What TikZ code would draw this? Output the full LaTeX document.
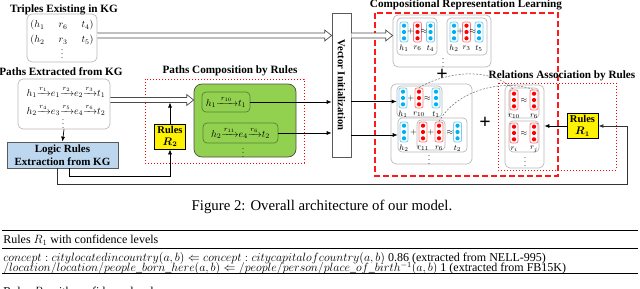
\documentclass[tikz,border=0pt]{standalone}
\usepackage{fontspec}
\setmainfont{Liberation Serif}
\usepackage{amsmath}
\usetikzlibrary{arrows.meta, positioning, calc}
\definecolor{dotblue}{RGB}{0,176,240}
\definecolor{dotred}{RGB}{255,0,0}
\definecolor{lineblue}{RGB}{120,205,245}
\definecolor{linered}{RGB}{255,124,128}
\definecolor{logicblue}{RGB}{189,215,238}
\definecolor{leafgreen}{RGB}{146,208,80}
\definecolor{darkgreen}{RGB}{84,130,53}

% hollow arrow between two points (same height)
\newcommand{\fatarrow}[2]{%
  \draw[gray!60!black, fill=white, line width=0.7pt, line join=miter]
    let \p1=(#1), \p2=(#2) in
    (\x1,\y1+2.5pt) -- (\x2-7pt,\y1+2.5pt) -- (\x2-7pt,\y1+5.5pt) -- (\x2,\y1)
    -- (\x2-7pt,\y1-5.5pt) -- (\x2-7pt,\y1-2.5pt) -- (\x1,\y1-2.5pt);}

\begin{document}
\begin{tikzpicture}[x=1pt, y=-1pt, font=\fontsize{10}{12}\selectfont, line width=0.7pt,
  title/.style={font=\fontsize{11.2}{13}\selectfont\bfseries, inner sep=0pt},
  graybox/.style={draw=gray!55, rounded corners=5pt, inner sep=0pt},
  rulebox/.style={draw, fill=yellow, align=center, font=\fontsize{10.5}{12}\selectfont\bfseries,
    minimum width=31pt, minimum height=25pt, inner sep=1pt},
  pathbox/.style={draw=darkgreen, rounded corners=4pt, minimum height=20pt, inner sep=1pt},
  vec/.style={draw=line#1, line width=0.8pt, fill=white, rounded corners=2pt,
    minimum width=8pt, minimum height=20pt, inner sep=0pt},
  veclab/.style={font=\fontsize{8.5}{9}\selectfont, inner sep=0pt},
  sym/.style={font=\fontsize{8}{9}\selectfont, inner sep=0pt},
  dots/.style={font=\fontsize{8}{9}\selectfont, inner sep=0pt},
  arr/.style={-{Latex[length=5pt,width=4pt]}},
  regdot/.style={draw=red, line width=1pt, dotted},
  regdash/.style={draw=red!90, line width=1.3pt, dash pattern=on 6pt off 3pt},
  link/.style={gray!80!black, line width=0.5pt, dash pattern=on 2pt off 1.5pt},
  tabtext/.style={font=\fontsize{12}{14}\selectfont, inner sep=1pt}]

\useasboundingbox (0,0) rectangle (640,289);
\clip (0,0) rectangle (640,289);

% regions
\draw[regdot] (145,79) rectangle (304,163);
\draw[regdash] (375,13) rectangle (558,176);
\draw[regdot] (498,83) rectangle (616,170);

% titles
\node[title] (t-trip) at (64,10) {Triples Existing in KG};
\node[title] (t-paths) at (61,72) {Paths Extracted from KG};
\node[title] (t-comp) at (230,71) {Paths Composition by Rules};
\node[title] (t-crl) at (466,5) {Compositional Representation Learning};
\node[title] (t-rel) at (562,76) {Relations Association by Rules};

% left side: knowledge graph
\node[graybox, minimum width=70pt, minimum height=48pt] (trip) at (62,38) {};
\node (trow1) at (62,25) {$(h_1$\hspace{14pt}$r_6$\hspace{14pt}$t_4)$};
\node (trow2) at (62,40) {$(h_2$\hspace{14pt}$r_3$\hspace{14pt}$t_5)$};
\node[dots] (tdots) at (62,51) {$\vdots$};

\node[graybox, minimum width=92pt, minimum height=50pt] (paths) at (64,104) {};
\node (prow1) at (66,92) {$h_1{\xrightarrow{r_1}}e_1{\xrightarrow{r_2}}e_2{\xrightarrow{r_3}}t_1$};
\node (prow2) at (66,110) {$h_2{\xrightarrow{r_4}}e_3{\xrightarrow{r_5}}e_4{\xrightarrow{r_6}}t_2$};
\node[dots] (pdots) at (63,121) {$\vdots$};

\node[draw=gray!70!black, fill=logicblue, minimum width=111pt, minimum height=26pt, align=center,
  inner sep=0pt, font=\fontsize{11}{13}\selectfont\bfseries] (logic) at (62.5,155)
  {Logic Rules\\Extraction from KG};

% paths composition
\node[rulebox] (r2) at (170,136.5) {Rules\\$\boldsymbol{R_2}$};
\node[draw=gray!60!black, fill=leafgreen, rounded corners=8pt, minimum width=102pt,
  minimum height=73pt] (green) at (245,120.5) {};
\node[pathbox, minimum width=48pt] (p1) at (226,102) {$h_1{\xrightarrow{\;r_{10}\;}}t_1$};
\node[pathbox, minimum width=75pt] (p2) at (240.5,133) {$h_2{\xrightarrow{r_{11}}}e_4{\xrightarrow{r_6}}t_2$};
\node[dots] (gdots) at (243,150) {$\vdots$};

\node[draw=gray!70!black, fill=white, minimum width=19pt, minimum height=144pt] (vec) at (341.5,85) {};
\node[rotate=-90, font=\fontsize{10.6}{12}\selectfont\bfseries] (vectxt) at (vec) {Vector Initialization};

% representation learning
\node[graybox, minimum width=98pt, minimum height=52pt] (topg) at (442,41) {};
\node[graybox, rounded corners=4pt, minimum width=40pt, minimum height=37pt] (tg1) at (417,36.5) {};
\node[graybox, rounded corners=4pt, minimum width=40pt, minimum height=37pt] (tg2) at (467,36.5) {};
\node[graybox, minimum width=81pt, minimum height=80pt] (midg) at (431.5,124) {};
\node[graybox, rounded corners=4pt, minimum width=45pt, minimum height=31pt] (m1) at (419.5,101.5) {};
\node[graybox, rounded corners=4pt, minimum width=69pt, minimum height=34pt] (m2) at (432.5,135) {};
\node[graybox, rounded corners=4pt, minimum width=28pt, minimum height=30pt] (msub) at (431,135) {};
\node[graybox, minimum width=39pt, minimum height=83pt] (relg) at (524.5,126.5) {};
\node[graybox, rounded corners=4pt, minimum width=30pt, minimum height=30pt] (ra) at (524,103) {};
\node[graybox, rounded corners=4pt, minimum width=30pt, minimum height=31pt] (rb) at (524,136.5) {};

\foreach \n/\x/\y/\c/\l in {th1/404/32/blue/h_1, tr6/417.5/32/red/r_6, tt4/430.5/32/blue/t_4,
    th2/454/32/blue/h_2, tr3/466.5/32/red/r_3, tt5/479/32/blue/t_5,
    mh1/403/98/blue/h_1, mr10/419/98/red/r_{10}, mt1/436/98/blue/t_1,
    mh2/404/132/blue/h_2, mr11/423/132/red/r_{11}, mr6/439/132/red/r_6, mt2/457.5/132/blue/t_2,
    rr10/514/100/red/r_{10}, rr6/534/100/red/r_6, rri/514/133/red/r_i, rrj/534/133/red/r_j} {
  \node[vec=\c] (\n) at (\x,\y) {};
  \foreach \d in {-6.3,0,6.3}
    \fill[dot\c] ($(\n.center)+(0,\d)$) circle (2.1pt);
  \node[veclab] (\n-l) at ($(\n.south)+(0,6)$) {$\l$};
}
\foreach \x/\y/\s [count=\i] in {410.8/32/+, 424/32/\approx, 460.3/32/+, 472.8/32/\approx,
    411/98/+, 427.5/98/\approx, 413.5/132/+, 431/132/+, 450/132/\approx,
    524/100/\approx, 524/133/\approx}
  \node[sym] (sym\i) at (\x,\y) {$\s$};

\node[dots] (topdots) at (443,60) {$\vdots$};
\node[dots] (middots) at (429,157) {$\vdots$};
\node[dots] (reldots) at (525,159) {$\vdots$};
\node[font=\fontsize{20}{20}\selectfont\bfseries, inner sep=0pt] (plus1) at (442,75) {+};
\node[font=\fontsize{20}{20}\selectfont\bfseries, inner sep=0pt] (plus2) at (485,123) {+};

\node[rulebox] (r1) at (582.5,126) {Rules\\$\boldsymbol{R_1}$};

% connectors
\coordinate (fa) at ([yshift=2.5pt]trip.east);
\coordinate (pa) at ([yshift=4pt]paths.east);
\fatarrow{fa}{vec.west |- fa}
\fatarrow{vec.east |- fa}{topg.west |- fa}
\fatarrow{pa}{green.west |- pa}
\draw[arr] (r2.north) -- ($(r2.north |- pa)+(0,2.5)$);
\draw[arr] (paths.south) -- (logic.north);
\draw[arr] ([xshift=7pt]logic.south) -- ++(0,8) -| (r2.south);
\coordinate (loop) at (627,184);
\draw[arr, line width=1pt, black!80] ([xshift=-5pt]logic.south) |- (loop) |- (r1.east);
\draw[arr] (p1.east) -- (vec.west |- p1.east);
\draw[arr] (p2.east) -- (vec.west |- p2.east);
\draw[arr] (vec.east |- m1.west) -- (m1.west);
\draw[arr] (vec.east |- m2.west) -- (m2.west);
\draw[arr] (r1.west) -- (relg.east |- r1.west);
\draw[link] (mr10.north) .. controls (450,70) and (492,68) .. (rr10.north);
\draw[link] (mr6.north) .. controls (455,92) and (500,78) .. (rr6.north);

% caption and table
\node[font=\fontsize{14.8}{16}\selectfont] (cap) at (322,207) {Figure 2: Overall architecture of our model.};
\draw[line width=0.9pt] (2,230) -- (638,230);
\node[tabtext, anchor=west] (tabh1) at (2,240) {Rules $R_1$ with confidence levels};
\draw[line width=0.5pt] (2,248) -- (638,248);
\node[tabtext, anchor=west] (tabr1) at (2,258)
  {$concept:citylocatedincountry(a,b)\Leftarrow concept:citycapitalofcountry(a,b)$ 0.86 (extracted from NELL-995)};
\node[tabtext, anchor=west] (tabr2) at (2,268.5)
  {$/location/location/people\_born\_here(a,b)\Leftarrow/people/person/place\_of\_birth^{-1}(a,b)$ 1 (extracted from FB15K)};
\draw[line width=0.8pt] (2,273) -- (638,273);
\node[tabtext, anchor=base west] (tabh2) at (2,295) {Rules $R_2$ with confidence levels};
\end{tikzpicture}
\end{document}
